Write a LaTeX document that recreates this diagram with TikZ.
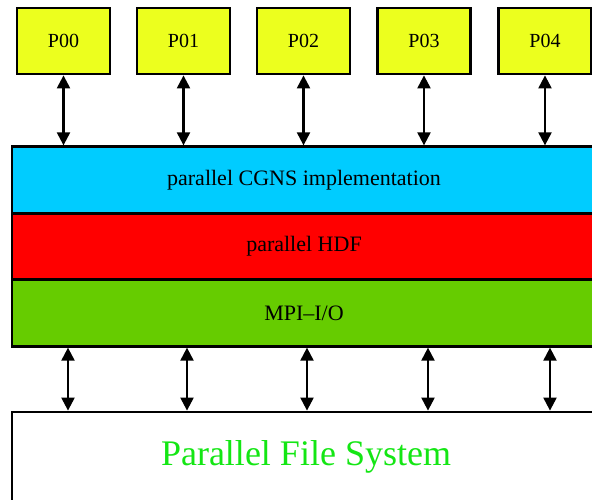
\documentclass[tikz,border=0pt]{standalone}
\usepackage{fontspec}
\setmainfont{Liberation Serif}
\usetikzlibrary{arrows.meta,calc}
\definecolor{procyellow}{RGB}{236,255,30}
\definecolor{cgnscyan}{RGB}{0,204,255}
\definecolor{hdfred}{RGB}{255,0,0}
\definecolor{mpigreen}{RGB}{102,204,0}
\definecolor{fstext}{RGB}{20,230,20}
\begin{document}
\begin{tikzpicture}[x=1pt,y=-1pt,
  proc/.style={draw,line width=2.8pt,fill=procyellow,minimum width=93pt,
    minimum height=66pt,inner sep=0pt,font=\fontsize{20}{24}\selectfont},
  layer/.style={draw,line width=2.8pt,minimum width=584pt,minimum height=66.5pt,
    inner sep=0pt,font=\fontsize{22}{26}\selectfont},
  link/.style={line width=2.2pt,
    {Triangle[length=13pt,width=13pt]}-{Triangle[length=13pt,width=13pt]}}]
\useasboundingbox (0,0) rectangle (592,500);
\clip (0,0) rectangle (592,500);

% processes
\node[proc] (p0) at (63.5,41) {P00};
\node[proc] (p1) at (183.5,41) {P01};
\node[proc] (p2) at (303.5,41) {P02};
\node[proc] (p3) at (424,41) {P03};
\node[proc] (p4) at (545,41) {P04};

% software stack
\node[layer,fill=cgnscyan] (cgns) at (304,180) {parallel CGNS implementation};
\node[layer,fill=hdfred] (hdf) at (304,246.5) {parallel HDF};
\node[layer,fill=mpigreen] (mpi) at (304,313) {MPI--I/O};

% storage
\node[draw,line width=2.8pt,minimum width=588pt,minimum height=90pt,inner sep=0pt,
  text=fstext,font=\fontsize{36}{40}\selectfont] (fs) at (306,457) {Parallel File System};

% process <-> CGNS links
\foreach \p in {p0,p1,p2,p3,p4}
  \draw[link] (\p.south) -- (\p.south |- cgns.north);

% MPI-I/O <-> file system links
\foreach \i/\x in {1/68,2/187,3/307,4/428,5/550}{
  \coordinate (m\i) at (\x,0);
  \draw[link] (m\i |- mpi.south) -- (m\i |- fs.north);
}
\end{tikzpicture}
\end{document}
